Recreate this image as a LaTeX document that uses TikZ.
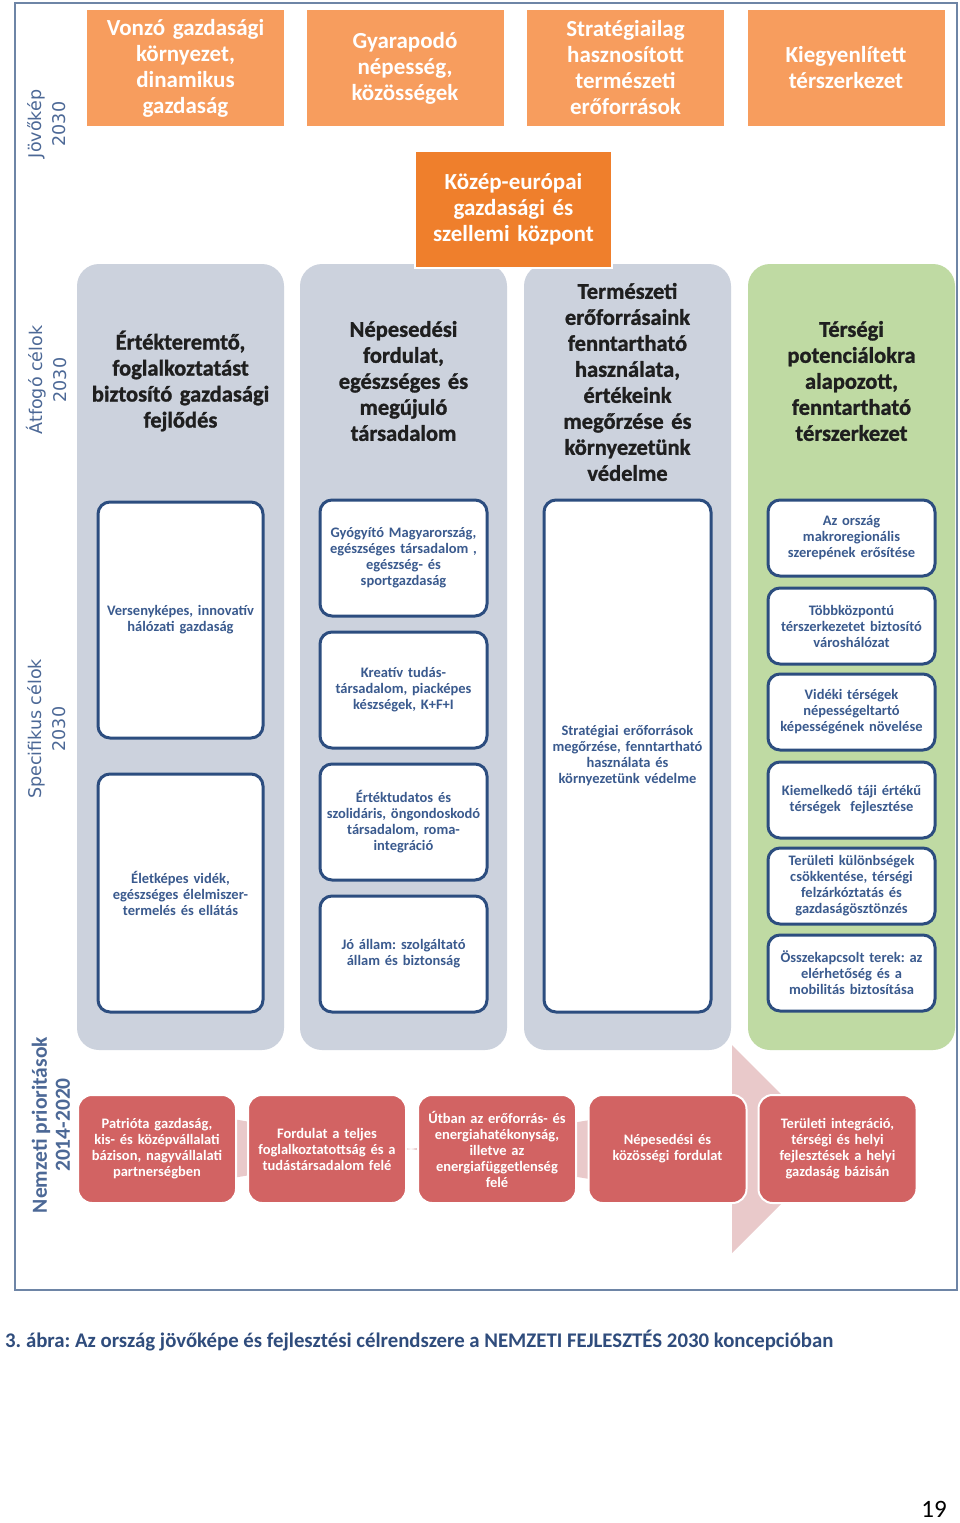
\documentclass[tikz,border=0pt]{standalone}
\usepackage{fontspec}
\setmainfont{Carlito}[BoldFont={Carlito Bold}]
\newfontfamily\dejavu{DejaVu Sans}
\newfontfamily\heavy{Carlito Bold}[FakeBold=1.2]
\frenchspacing
\definecolor{topor}{HTML}{F79D5E}
\definecolor{midor}{HTML}{EF7F2C}
\definecolor{colgrey}{HTML}{CCD2DD}
\definecolor{colgreen}{HTML}{BFDAA3}
\definecolor{boxblue}{HTML}{2C4D7F}
\definecolor{txtblue}{HTML}{3A5A8E}
\definecolor{redbox}{HTML}{D26363}
\definecolor{arrowpink}{HTML}{E9C9CA}
\definecolor{lblblue}{HTML}{4C6896}
\definecolor{framec}{HTML}{6E85A6}
\definecolor{capblue}{HTML}{2F4C7C}
\tikzset{
  topbox/.style={fill=topor, text=white, font=\bfseries\fontsize{23}{26}\selectfont, align=center, minimum width=197, minimum height=116, inner sep=0pt, text width=195},
  midbox/.style={fill=midor, draw=white, line width=2.5pt, text=white, font=\bfseries\fontsize{23}{26}\selectfont, align=center, minimum width=197, minimum height=117, inner sep=0pt, text width=195},
  colbox/.style={rounded corners=22pt, minimum width=207, minimum height=786, inner sep=0pt},
  headtxt/.style={text=black!88, font=\heavy\fontsize{22.5}{26}\selectfont, align=center, text width=205, inner sep=0pt},
  goalbox/.style={fill=white, draw=boxblue, line width=3pt, rounded corners=12pt, text=txtblue, font=\bfseries\fontsize{14.5}{16}\selectfont, align=center, inner sep=0pt, text width=162},
  prio/.style={fill=redbox, draw=white, line width=2pt, rounded corners=14pt, text=white, font=\bfseries\fontsize{14.5}{16}\selectfont, align=center, minimum width=158, minimum height=108, inner sep=0pt, text width=156},
  sidelbl/.style={rotate=90, text=lblblue, font=\dejavu\fontsize{17.5}{24}\selectfont, align=center, inner sep=0pt},
}
\begin{document}
\begin{tikzpicture}[x=1pt,y=-1pt]
\useasboundingbox (0,0) rectangle (960,1523);
\fill[white] (0,0) rectangle (960,1523);
% frame
\node[draw=framec, line width=1.5pt, minimum width=942, minimum height=1287, inner sep=0pt] (frame) at (486,646.5) {};
% top vision boxes
\node[topbox] (v1) at (185.5,68) {Vonzó gazdasági\\környezet,\\dinamikus\\gazdaság};
\node[topbox] (v2) at (405,68) {Gyarapodó\\népesség,\\közösségek};
\node[topbox] (v3) at (625.5,68) {Stratégiailag\\hasznosított\\természeti\\erőforrások};
\node[topbox] (v4) at (846,68) {Kiegyenlített\\térszerkezet};
% columns
\node[colbox, fill=colgrey] (c1) at (180.5,657) {};
\node[colbox, fill=colgrey] (c2) at (403.5,657) {};
\node[colbox, fill=colgrey] (c3) at (627.5,657) {};
\node[colbox, fill=colgreen] (c4) at (851.5,657) {};
% central vision
\node[midbox] (vc) at (513.5,209.5) {Közép-európai\\gazdasági és\\szellemi központ};
% column headers
\node[headtxt] (h1) at (180.5,381) {Értékteremtő,\\foglalkoztatást\\biztosító gazdasági\\fejlődés};
\node[headtxt] (h2) at (403.5,381) {Népesedési\\fordulat,\\egészséges és\\megújuló\\társadalom};
\node[headtxt] (h3) at (627.5,382) {Természeti\\erőforrásaink\\fenntartható\\használata,\\értékeink\\megőrzése és\\környezetünk\\védelme};
\node[headtxt] (h4) at (851.5,381) {Térségi\\potenciálokra\\alapozott,\\fenntartható\\térszerkezet};
% specific goals col1
\node[goalbox, minimum width=165, minimum height=236] (s11) at (180.5,620) {Versenyképes, innovatív\\hálózati gazdaság};
\node[goalbox, minimum width=165, minimum height=238] (s12) at (180.5,893) {Életképes vidék,\\egészséges élelmiszer-\\termelés és ellátás};
% col2
\node[goalbox, minimum width=167, minimum height=116] (s21) at (403.5,558) {Gyógyító Magyarország,\\egészséges társadalom ,\\egészség- és\\sportgazdaság};
\node[goalbox, minimum width=167, minimum height=116] (s22) at (403.5,690) {Kreatív tudás-\\társadalom, piacképes\\készségek, K+F+I};
\node[goalbox, minimum width=167, minimum height=116] (s23) at (403.5,822) {Értéktudatos és\\szolidáris, öngondoskodó\\társadalom, roma-\\integráció};
\node[goalbox, minimum width=167, minimum height=116] (s24) at (403.5,954) {Jó állam: szolgáltató\\állam és biztonság};
% col3
\node[goalbox, minimum width=167, minimum height=512] (s31) at (627.5,756) {Stratégiai erőforrások\\megőrzése, fenntartható\\használata és\\környezetünk védelme};
% col4
\node[goalbox, minimum width=167, minimum height=76] (s41) at (851.5,538) {Az ország\\makroregionális\\szerepének erősítése};
\node[goalbox, minimum width=167, minimum height=76] (s42) at (851.5,626) {Többközpontú\\térszerkezetet biztosító\\városhálózat};
\node[goalbox, minimum width=167, minimum height=76] (s43) at (851.5,712) {Vidéki térségek\\népességeltartó\\képességének növelése};
\node[goalbox, minimum width=167, minimum height=76] (s44) at (851.5,800) {Kiemelkedő táji értékű\\térségek~ fejlesztése};
\node[goalbox, minimum width=167, minimum height=76] (s45) at (851.5,886) {Területi különbségek\\csökkentése, térségi\\felzárkóztatás és\\gazdaságösztönzés};
\node[goalbox, minimum width=167, minimum height=76] (s46) at (851.5,973) {Összekapcsolt terek: az\\elérhetőség és a\\mobilitás biztosítása};
% background arrow
\coordinate (atail) at (90,1149);
\coordinate (atip) at (836,1149);
\fill[arrowpink] ([yshift=-52]atail) -- (732,1097) -- (732,1045) -- (atip) -- (732,1253) -- (732,1203) -- ([yshift=54]atail) -- cycle;
% national priorities
\node[prio] (p1) at (157,1149) {Patrióta gazdaság,\\kis- és középvállalati\\bázison, nagyvállalati\\partnerségben};
\node[prio] (p2) at (327,1149) {Fordulat a teljes\\foglalkoztatottság és a\\tudástársadalom felé};
\node[prio] (p3) at (497,1149) {Útban az erőforrás- és\\energiahatékonyság,\\illetve az\\energiafüggetlenség\\felé};
\node[prio] (p4) at (667.5,1149) {Népesedési és\\közösségi fordulat};
\node[prio] (p5) at (837.5,1149) {Területi integráció,\\térségi és helyi\\fejlesztések a helyi\\gazdaság bázisán};
% side labels
\node[sidelbl] (l1) at (47,124) {Jövőkép\\2030};
\node[sidelbl] (l2) at (47,380) {Átfogó célok\\2030};
\node[sidelbl] (l3) at (47,729) {Specifikus célok\\2030};
\node[sidelbl, font=\bfseries\fontsize{21.5}{23}\selectfont] (l4) at (51,1125) {Nemzeti prioritások\\2014-2020};
% caption and page number
\node[anchor=base west, text=capblue, font=\bfseries\fontsize{20.8}{22}\selectfont, inner sep=0pt] (cap) at (5,1347) {3. ábra: Az ország jövőképe és fejlesztési célrendszere a NEMZETI FEJLESZTÉS 2030 koncepcióban};
\node[anchor=base east, text=black, font=\fontsize{25}{27}\selectfont, inner sep=0pt] (pg) at (947,1517) {19};
\end{tikzpicture}
\end{document}
